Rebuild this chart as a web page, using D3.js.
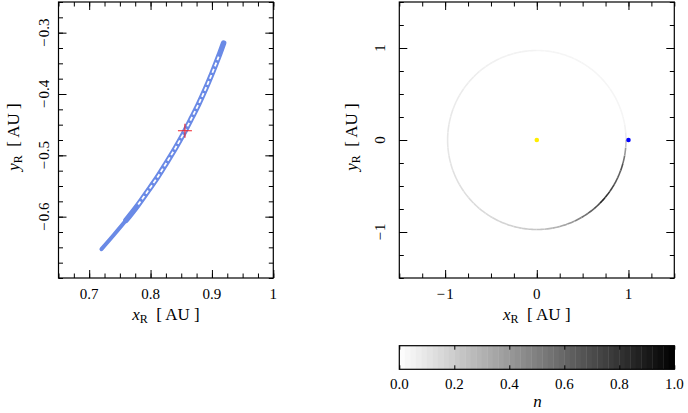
<!DOCTYPE html>
<html>
<head>
<meta charset="utf-8">
<script src="https://cdn.jsdelivr.net/npm/d3@7"></script>
<style>
  body { margin: 0; background: #fff; }
  svg { display: block; }
  svg text { font-family: "Liberation Serif", "Times New Roman", serif; }
</style>
</head>
<body>
<svg id="chart" width="688" height="413"></svg>
<script>
// trajectory centreline in the rotating frame (left panel)
var trackX = [0.919, 0.911, 0.900, 0.889, 0.878, 0.866, 0.853, 0.840, 0.826, 0.811, 0.795, 0.778, 0.760, 0.740, 0.720];
var trackY = [-0.317, -0.339, -0.367, -0.393, -0.417, -0.441, -0.466, -0.489, -0.512, -0.536, -0.559, -0.583, -0.606, -0.630, -0.653];
var crossPoint = [0.856, -0.460];

// ring density n, in 5 degree bins starting at ringStart
var ringStart = -180, ringStep = 5, ringRadius = 0.973;
var ringN = [
    0.10, 0.10, 0.11, 0.11, 0.12, 0.12, 0.13, 0.13, 0.14, 0.14, 0.15, 0.15,
    0.16, 0.17, 0.18, 0.19, 0.20, 0.22, 0.24, 0.27, 0.30, 0.35, 0.40, 0.48,
    0.55, 0.62, 0.70, 0.85, 0.80, 0.72, 0.65, 0.62, 0.68, 0.55, 0.40, 0.22,
    0.08, 0.05, 0.04, 0.04, 0.04, 0.04, 0.04, 0.04, 0.04, 0.04, 0.04, 0.04,
    0.04, 0.04, 0.04, 0.04, 0.04, 0.04, 0.05, 0.05, 0.05, 0.05, 0.05, 0.06,
    0.06, 0.06, 0.07, 0.07, 0.07, 0.08, 0.08, 0.08, 0.09, 0.09, 0.10, 0.10
];
var sunPos = [0, 0];
var earthPos = [1, 0];

// tick values and labels
var leftXTicks = [0.7, 0.8, 0.9, 1.0];
var leftXLabels = ["0.7", "0.8", "0.9", "1"];
var leftYTicks = [-0.3, -0.4, -0.5, -0.6];
var leftYLabels = ["\u2212\u200a0.3", "\u2212\u200a0.4", "\u2212\u200a0.5", "\u2212\u200a0.6"];
var rightTicks = [-1, 0, 1];
var rightLabels = ["\u2212\u200a1", "0", "1"];
var cbarTicks = [0, 0.2, 0.4, 0.6, 0.8, 1.0];
var cbarLabels = ["0.0", "0.2", "0.4", "0.6", "0.8", "1.0"];

var svg = d3.select("#chart");

var xL = d3.scaleLinear().domain([0.65, 1.0]).range([58.5, 273.3]);
var yL = d3.scaleLinear().domain([-0.70, -0.25]).range([278, 2]);
var xR = d3.scaleLinear().domain([-1.5, 1.5]).range([399.3, 674.3]);
var yR = d3.scaleLinear().domain([-1.5, 1.5]).range([278, 2]);
var xC = d3.scaleLinear().domain([0, 1]).range([399.3, 674.3]);
var grey = function (n) { var v = Math.round(255 * (1 - n)); return d3.rgb(v, v, v); };

function minorValues(domain, step) {
    var out = [];
    for (var v = Math.ceil(domain[0] / step - 1e-9) * step; v <= domain[1] + 1e-9; v += step) out.push(+v.toFixed(6));
    return out;
}

// inward ticks on all four sides
function frameTicks(x, y, xMaj, yMaj, xStep, yStep) {
    var g = svg.append("g");
    var x0 = x.range()[0], x1 = x.range()[1], y0 = y.range()[1], y1 = y.range()[0];
    var sides = [
        [d3.axisBottom, x, "translate(0," + y1 + ")", xMaj, minorValues(x.domain(), xStep)],
        [d3.axisTop, x, "translate(0," + y0 + ")", xMaj, minorValues(x.domain(), xStep)],
        [d3.axisLeft, y, "translate(" + x0 + ",0)", yMaj, minorValues(y.domain(), yStep)],
        [d3.axisRight, y, "translate(" + x1 + ",0)", yMaj, minorValues(y.domain(), yStep)]
    ];
    sides.forEach(function (s) {
        g.append("g").attr("transform", s[2])
            .call(s[0](s[1]).tickValues(s[4]).tickSize(-4.5).tickSizeOuter(0).tickFormat(""));
        g.append("g").attr("transform", s[2])
            .call(s[0](s[1]).tickValues(s[3]).tickSize(-8).tickSizeOuter(0).tickFormat(""));
    });
    g.selectAll(".domain").remove();
    g.selectAll("line").attr("stroke", "#000").attr("stroke-width", 1);
    svg.append("rect").attr("x", x0).attr("y", y0).attr("width", x1 - x0).attr("height", y1 - y0)
        .attr("fill", "none").attr("stroke", "#000").attr("stroke-width", 1.2);
}

function xTickLabels(x, vals, labels, baseline) {
    svg.append("g").selectAll("text").data(vals).join("text")
        .attr("x", function (d) { return x(d); }).attr("y", baseline)
        .attr("text-anchor", "middle").style("font-size", "15px")
        .text(function (d, i) { return labels[i]; });
}

function yTickLabels(y, vals, labels, bx) {
    svg.append("g").selectAll("text").data(vals).join("text")
        .attr("transform", function (d) { return "translate(" + bx + "," + y(d) + ") rotate(-90)"; })
        .attr("text-anchor", "middle").style("font-size", "15px")
        .text(function (d, i) { return labels[i]; });
}

function axisLabel(name, cx, cy, rotate) {
    var t = svg.append("text").attr("text-anchor", "middle").style("font-size", "17px")
        .attr("transform", "translate(" + cx + "," + cy + ")" + (rotate ? " rotate(-90)" : ""));
    t.append("tspan").style("font-style", "italic").text(name);
    t.append("tspan").attr("dy", 3).style("font-size", "12px").text("R");
    t.append("tspan").attr("dy", -3).text("\u2002[ AU ]");
}

// ---- left panel: zoom on the trajectory ----
svg.append("defs").append("clipPath").attr("id", "clipL")
    .append("rect").attr("x", 58.5).attr("y", 2).attr("width", 214.8).attr("height", 276);

var track = trackX.map(function (d, i) { return [d, trackY[i]]; });
var line = d3.line().x(function (d) { return xL(d[0]); }).y(function (d) { return yL(d[1]); })
    .curve(d3.curveCatmullRom);

var gL = svg.append("g").attr("clip-path", "url(#clipL)");
gL.append("path").attr("d", line(track.slice(0, 13)))
    .attr("fill", "none").attr("stroke", "#6a8ae6").attr("stroke-width", 5.6).attr("stroke-linecap", "round");
gL.append("path").attr("d", line(track.slice(11)))
    .attr("fill", "none").attr("stroke", "#6a8ae6").attr("stroke-width", 4).attr("stroke-linecap", "round");
gL.append("path").attr("d", line(track.slice(1, 12)))
    .attr("fill", "none").attr("stroke", "#ffffff").attr("stroke-width", 1.8)
    .attr("stroke-dasharray", "4 2.6");

var cx = xL(crossPoint[0]), cy = yL(crossPoint[1]);
gL.append("path").attr("d", "M" + (cx - 7) + "," + cy + "H" + (cx + 7) + "M" + cx + "," + (cy - 7) + "V" + (cy + 7))
    .attr("stroke", "#f0202a").attr("stroke-width", 1.1);

frameTicks(xL, yL, leftXTicks, leftYTicks, 0.025, 0.025);
xTickLabels(xL, leftXTicks, leftXLabels, 298.5);
yTickLabels(yL, leftYTicks, leftYLabels, 48.5);
axisLabel("x", 166, 320, false);
axisLabel("y", 18.5, 137, true);

// ---- right panel: full ring coloured by n ----
var gR = svg.append("g");
var arcLine = d3.line().x(function (d) { return xR(d[0]); }).y(function (d) { return yR(d[1]); });
ringN.forEach(function (n, i) {
    var a0 = ringStart + i * ringStep, pts = [];
    for (var a = a0; a <= a0 + ringStep + 0.01; a += 1) {
        var r = a * Math.PI / 180;
        pts.push([ringRadius * Math.cos(r), ringRadius * Math.sin(r)]);
    }
    gR.append("path").attr("d", arcLine(pts)).attr("fill", "none")
        .attr("stroke", grey(n)).attr("stroke-width", 1.6).attr("stroke-linecap", "butt");
});
gR.append("circle").attr("cx", xR(sunPos[0])).attr("cy", yR(sunPos[1])).attr("r", 2.3).attr("fill", "#ffee00");
gR.append("circle").attr("cx", xR(earthPos[0])).attr("cy", yR(earthPos[1])).attr("r", 2.3).attr("fill", "#0000ff");

frameTicks(xR, yR, rightTicks, rightTicks, 0.25, 0.25);
xTickLabels(xR, rightTicks, rightLabels, 298.5);
yTickLabels(yR, rightTicks, rightLabels, 385);
axisLabel("x", 536.8, 320, false);
axisLabel("y", 357, 137, true);

// ---- colorbar ----
var bands = 50, cbY = 345.7, cbH = 23.6;
svg.append("g").selectAll("rect").data(d3.range(bands)).join("rect")
    .attr("x", function (i) { return xC(i / bands); }).attr("y", cbY)
    .attr("width", xC(1 / bands) - xC(0) + 0.4).attr("height", cbH)
    .attr("fill", function (i) { return grey((i + 0.5) / bands); });
var gC = svg.append("g");
gC.append("g").attr("transform", "translate(0," + (cbY + cbH) + ")")
    .call(d3.axisBottom(xC).tickValues(cbarTicks).tickSize(-4).tickSizeOuter(0).tickFormat(""));
gC.append("g").attr("transform", "translate(0," + cbY + ")")
    .call(d3.axisTop(xC).tickValues(cbarTicks).tickSize(-4).tickSizeOuter(0).tickFormat(""));
gC.selectAll(".domain").remove();
gC.selectAll("line").attr("stroke", "#000");
svg.append("rect").attr("x", 399.3).attr("y", cbY).attr("width", 275).attr("height", cbH)
    .attr("fill", "none").attr("stroke", "#000").attr("stroke-width", 1.2);
xTickLabels(xC, cbarTicks, cbarLabels, 388.5);
svg.append("text").attr("x", 537.5).attr("y", 407).attr("text-anchor", "middle")
    .style("font-size", "17px").style("font-style", "italic").text("n");
</script>
</body>
</html>
